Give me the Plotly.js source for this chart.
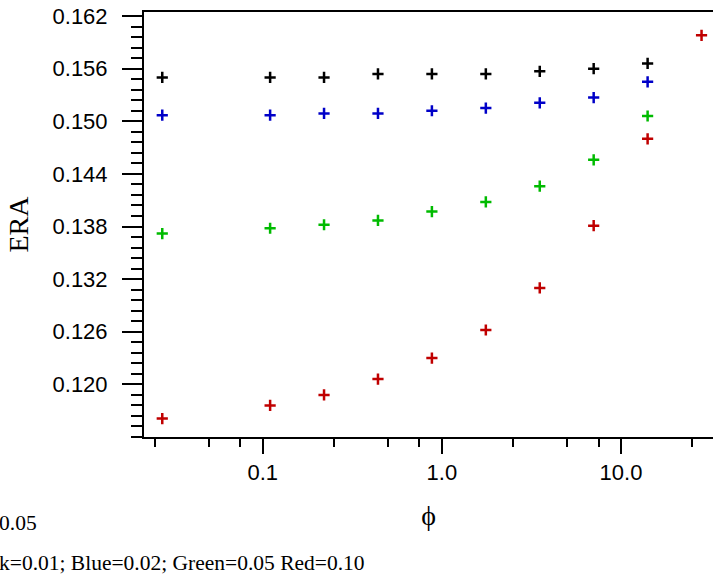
<!DOCTYPE html>
<html>
<head>
<meta charset="utf-8">
<script src="https://cdn.plot.ly/plotly-3.0.1.min.js"></script>
<style>
  html, body { margin: 0; padding: 0; background: #fff; }
  #chart { width: 713px; height: 578px; }
</style>
</head>
<body>
<div id="chart"></div>
<script>
// Data
const phi = [0.0275, 0.11, 0.22, 0.44, 0.88, 1.76, 3.52, 7.04, 14.08, 28.16];
const eraBlack = [0.1550, 0.1550, 0.1550, 0.1554, 0.1554, 0.1554, 0.1557, 0.1560, 0.1566];
const eraBlue  = [0.1507, 0.1507, 0.1509, 0.1509, 0.1512, 0.1515, 0.1521, 0.1527, 0.1545];
const eraGreen = [0.1372, 0.1378, 0.1382, 0.1387, 0.1397, 0.1408, 0.1426, 0.1456, 0.1506];
const eraRed   = [0.1161, 0.1176, 0.1188, 0.1206, 0.1230, 0.1262, 0.1310, 0.1381, 0.1480, 0.1598];
const seriesNames = ['Black=0.01', 'Blue=0.02', 'Green=0.05', 'Red=0.10'];
const seriesColors = ['#000000', '#0000c8', '#00bb00', '#c00000'];
const xTickVals = [0.1, 1, 10];
const xTickText = ['0.1', '1.0', '10.0'];
const xMinorVals = [0.025, 0.05, 0.075, 0.25, 0.5, 0.75, 2.5, 5, 7.5, 25];
const yTickVals = [0.120, 0.126, 0.132, 0.138, 0.144, 0.150, 0.156, 0.162];

const series = [eraBlack, eraBlue, eraGreen, eraRed];
const traces = series.map((vals, i) => ({
  type: 'scatter',
  mode: 'markers',
  name: seriesNames[i],
  x: phi.slice(0, vals.length),
  y: vals,
  marker: {
    symbol: 'cross-thin-open',
    size: 8,
    color: seriesColors[i],
    line: { color: seriesColors[i], width: 2.5 }
  },
  showlegend: false,
  cliponaxis: false
}));

const W = 713, H = 578, L = 144, T = 11.7, B = 141;
const tickFont = { family: 'Liberation Sans, Arial, sans-serif', size: 22, color: '#000' };
const serif = 'Liberation Serif, Times New Roman, serif';

const layout = {
  width: W, height: H,
  margin: { l: L, r: 0, t: T, b: B, pad: 0 },
  paper_bgcolor: '#fff',
  plot_bgcolor: '#fff',
  showlegend: false,
  xaxis: {
    type: 'log',
    range: [-1.6626, 1.5136],
    showgrid: false, zeroline: false,
    showline: true, linecolor: '#000', linewidth: 2, mirror: true,
    ticks: 'outside', ticklen: 15, tickwidth: 2, tickcolor: '#000',
    tickmode: 'array', tickvals: xTickVals, ticktext: xTickText,
    tickfont: tickFont,
    minor: { tickmode: 'array', tickvals: xMinorVals, ticks: 'outside', ticklen: 8, tickwidth: 2, tickcolor: '#000', showgrid: false },
    title: { text: 'ϕ', font: { family: serif, size: 28, color: '#000' }, standoff: 21 },
    automargin: false
  },
  yaxis: {
    range: [0.1140, 0.16246],
    showgrid: false, zeroline: false,
    showline: true, linecolor: '#000', linewidth: 2, mirror: false,
    ticks: 'outside', ticklen: 20, tickwidth: 2, tickcolor: '#000',
    tickmode: 'array', tickvals: yTickVals, tickformat: '.3f',
    tickfont: tickFont,
    ticklabelstandoff: 10,
    minor: { tick0: 0.120, dtick: 0.0012, ticks: 'outside', ticklen: 11, tickwidth: 2, tickcolor: '#000', showgrid: false },
    title: { text: 'ERA', font: { family: serif, size: 28, color: '#000' }, standoff: 16 },
    automargin: false
  },
  annotations: [
    { xref: 'paper', yref: 'paper', x: -(L + 3) / (W - L), y: -(523 - 437) / (H - T - B), xanchor: 'left', yanchor: 'middle',
      text: '0.05', showarrow: false, font: { family: serif, size: 21.5, color: '#000' } },
    { xref: 'paper', yref: 'paper', x: -(L + 3) / (W - L), y: -(563 - 437) / (H - T - B), xanchor: 'left', yanchor: 'middle',
      text: 'k=0.01; Blue=0.02; Green=0.05 Red=0.10', showarrow: false, font: { family: serif, size: 21.5, color: '#000' } }
  ]
};

Plotly.newPlot('chart', traces, layout, { staticPlot: true, displayModeBar: false });
</script>
</body>
</html>
